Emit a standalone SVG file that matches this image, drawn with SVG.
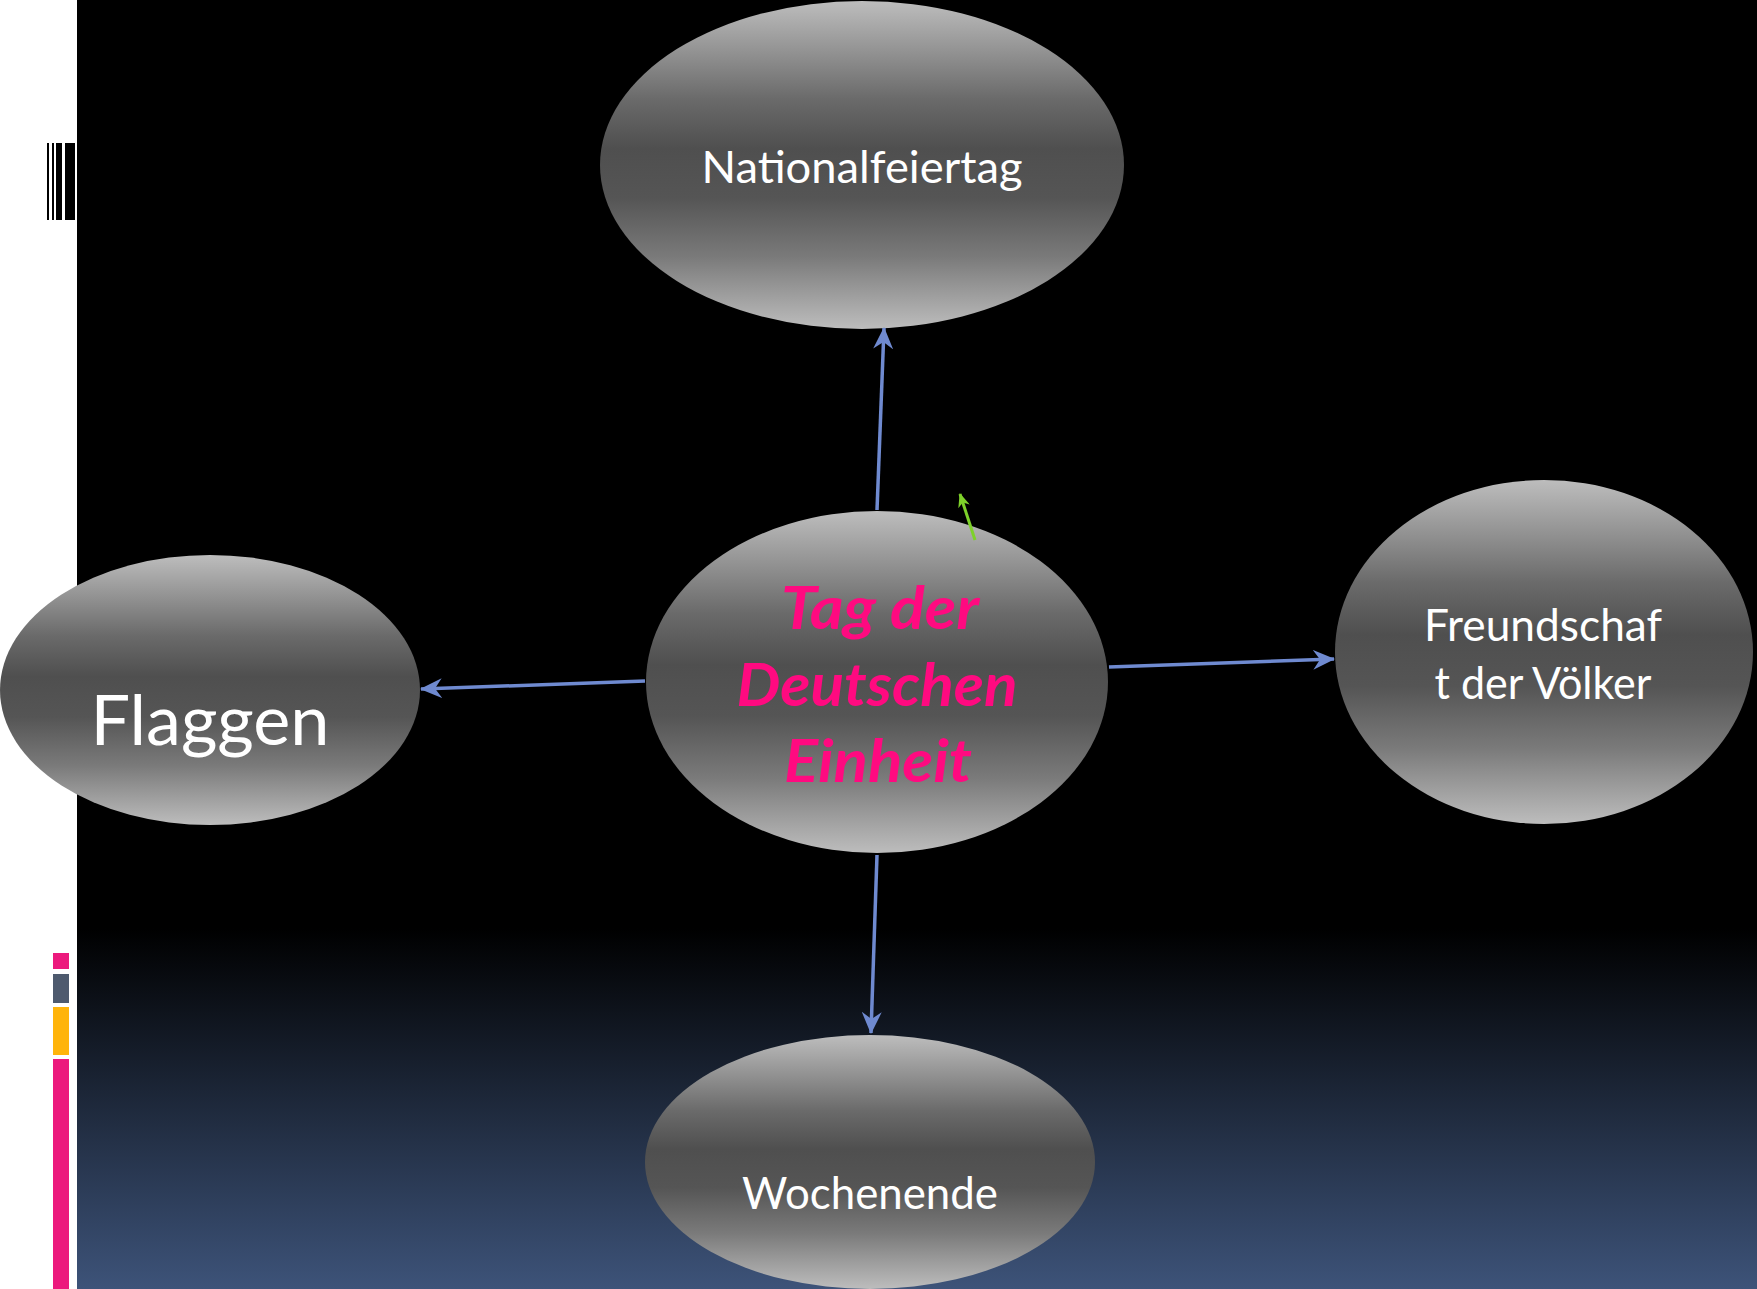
<svg xmlns="http://www.w3.org/2000/svg" width="1757" height="1289" viewBox="0 0 1757 1289">
<defs>
<linearGradient id="bg" x1="0" y1="0" x2="0" y2="1289" gradientUnits="userSpaceOnUse">
<stop offset="0" stop-color="#000000"/>
<stop offset="0.72" stop-color="#000000"/>
<stop offset="1" stop-color="#3d5379"/>
</linearGradient>
<linearGradient id="node" x1="0" y1="0" x2="0" y2="1">
<stop offset="0" stop-color="#bdbdbd"/>
<stop offset="0.3" stop-color="#6a6a6a"/>
<stop offset="0.45" stop-color="#4f4f4f"/>
<stop offset="0.6" stop-color="#555555"/>
<stop offset="0.78" stop-color="#7a7a7a"/>
<stop offset="1" stop-color="#bdbdbd"/>
</linearGradient>
<marker id="arr" viewBox="0 0 22 20" refX="21" refY="10" markerWidth="22" markerHeight="20" markerUnits="userSpaceOnUse" orient="auto">
<path d="M0,0 L22,10 L0,20 L7,10 Z" fill="#6f8ad0"/>
</marker>
<marker id="arrg" viewBox="0 0 14 12" refX="13" refY="6" markerWidth="14" markerHeight="12" markerUnits="userSpaceOnUse" orient="auto">
<path d="M0,0 L14,6 L0,12 L4,6 Z" fill="#7ed12a"/>
</marker>
</defs>
<style>
.node{fill:url(#node);}
.lbl{font-family:"Lato","Open Sans","Liberation Sans",sans-serif;fill:#ffffff;text-anchor:middle;}
.main{font-family:"Lato","Open Sans","Liberation Sans",sans-serif;fill:#ff0a80;font-weight:bold;font-style:italic;text-anchor:middle;font-size:60px;}
.conn{stroke:#6f8ad0;stroke-width:3.5;fill:none;marker-end:url(#arr);}
</style>
<rect x="0" y="0" width="1757" height="1289" fill="#ffffff"/>
<rect x="77" y="0" width="1680" height="1289" fill="url(#bg)"/>
<g id="barcode" fill="#000000">
<rect x="47" y="143" width="2" height="77"/>
<rect x="52" y="143" width="2" height="77"/>
<rect x="56" y="143" width="6" height="77"/>
<rect x="65" y="143" width="10" height="77"/>
</g>
<g id="sidebar">
<rect x="53" y="953" width="16" height="16" fill="#ec197d"/>
<rect x="53" y="974" width="16" height="29" fill="#4e5a6e"/>
<rect x="53" y="1007" width="16" height="48" fill="#ffb40a"/>
<rect x="53" y="1059" width="16" height="230" fill="#ec197d"/>
</g>
<g id="node-nationalfeiertag">
<ellipse class="node" cx="862" cy="165" rx="262" ry="164"/>
<text class="lbl" x="862" y="183" font-size="45" textLength="321" lengthAdjust="spacingAndGlyphs">Nationalfeiertag</text>
</g>
<g id="node-flaggen">
<ellipse class="node" cx="210" cy="690" rx="210" ry="135"/>
<text class="lbl" x="210" y="745" font-size="70" textLength="239" lengthAdjust="spacingAndGlyphs">Flaggen</text>
</g>
<g id="node-freundschaft">
<ellipse class="node" cx="1544" cy="652" rx="209" ry="172"/>
<text class="lbl" x="1543" y="641" font-size="44" textLength="238" lengthAdjust="spacingAndGlyphs">Freundschaf</text>
<text class="lbl" x="1543" y="699" font-size="44" textLength="217" lengthAdjust="spacingAndGlyphs">t der Völker</text>
</g>
<g id="node-wochenende">
<ellipse class="node" cx="870" cy="1162" rx="225" ry="127"/>
<text class="lbl" x="870" y="1209" font-size="45" textLength="256" lengthAdjust="spacingAndGlyphs">Wochenende</text>
</g>
<g id="node-center">
<ellipse class="node" cx="877" cy="682" rx="231" ry="171"/>
<text class="main" x="880" y="629" textLength="198" lengthAdjust="spacingAndGlyphs">Tag der</text>
<text class="main" x="877" y="706" textLength="281" lengthAdjust="spacingAndGlyphs">Deutschen</text>
<text class="main" x="878" y="782" textLength="188" lengthAdjust="spacingAndGlyphs">Einheit</text>
</g>
<g id="connectors">
<line class="conn" x1="877" y1="510" x2="884" y2="328"/>
<line class="conn" x1="645" y1="681" x2="421" y2="689"/>
<line class="conn" x1="1109" y1="667" x2="1334" y2="659"/>
<line class="conn" x1="877" y1="855" x2="871" y2="1033"/>
<line x1="975" y1="540" x2="960" y2="494" stroke="#7ed12a" stroke-width="3" marker-end="url(#arrg)"/>
</g>
</svg>
